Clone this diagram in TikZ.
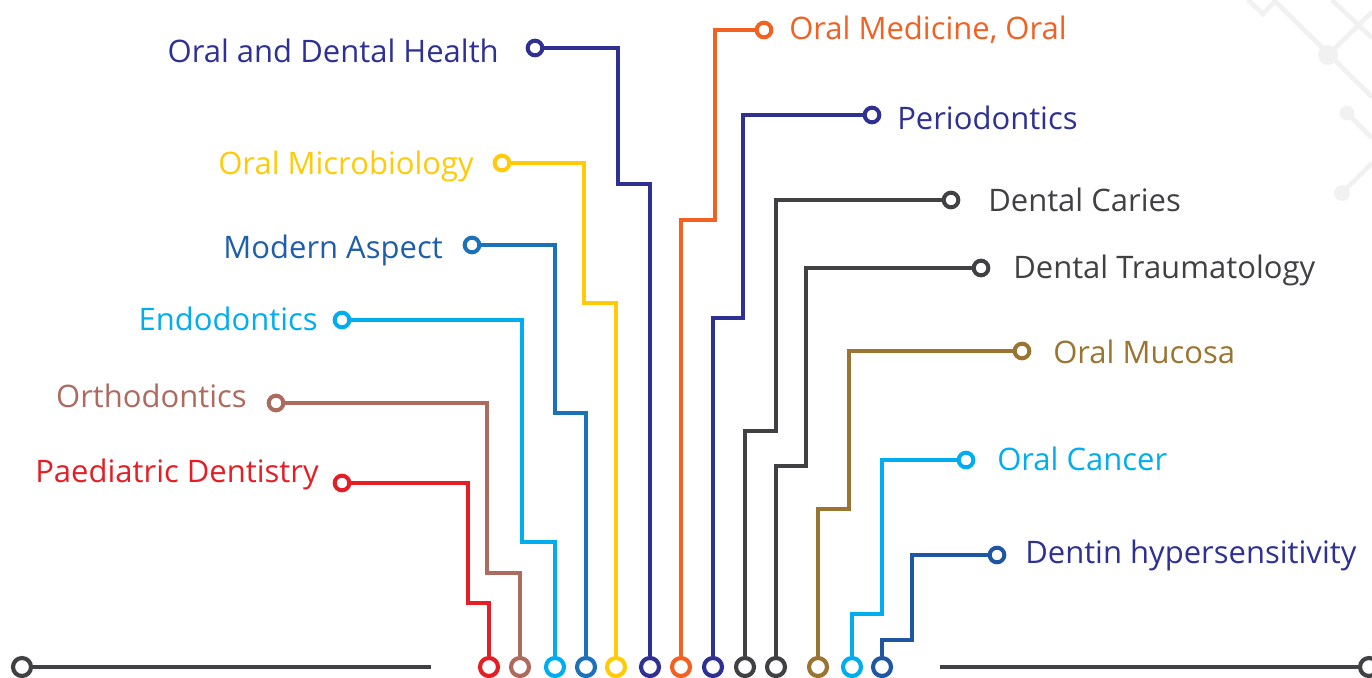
\documentclass[tikz,border=0pt]{standalone}
\usepackage{fontspec}
\setmainfont{Open Sans}
\definecolor{cnavy}{HTML}{2E3192}
\definecolor{cyellow}{HTML}{FFCB08}
\definecolor{cmblue}{HTML}{1B72B8}
\definecolor{cmtext}{HTML}{1F5FA9}
\definecolor{clblue}{HTML}{00AEEF}
\definecolor{cbrown}{HTML}{AD6B60}
\definecolor{cred}{HTML}{E51E25}
\definecolor{corange}{HTML}{F26122}
\definecolor{cdgrey}{HTML}{414042}
\definecolor{cgold}{HTML}{9A7430}
\definecolor{cdblue}{HTML}{1F56A3}
\definecolor{cbg}{HTML}{F1F1F1}
\begin{document}
\begin{tikzpicture}[x=0.75pt,y=-0.75pt,
  dot/.style={circle, draw=#1, fill=white, line width=3pt, minimum size=11pt, inner sep=0pt},
  bdot/.style={circle, draw=#1, fill=white, line width=3.1pt, minimum size=13.5pt, inner sep=0pt},
  trace/.style={draw=#1, line width=3pt},
  lbl/.style={text=#1, font=\fontsize{23.25}{27}\selectfont, inner sep=0pt},
  bgline/.style={draw=cbg, line width=3.6pt},
  bgdot/.style={fill=cbg}]
\useasboundingbox (0,0) rectangle (1372,678);
% faint background circuit
\draw[bgline] (1248,0) -- (1263,14) -- (1275,1) -- (1372,97);
\draw[bgline] (1332,0) -- (1372,38);
\draw[bgline] (1328,55) -- (1372,12);
\draw[bgline] (1347,113) -- (1372,138);
\draw[bgline] (1342,193) -- (1372,163);
\fill[bgdot] (1328,55) circle (7.5pt);
\fill[bgdot] (1347,113) circle (5.5pt);
\fill[bgdot] (1342,193) circle (6pt);
% bottom rail
\node[bdot=cdgrey] (railL) at (22,667) {};
\node[bdot=cdgrey] (railR) at (1369,667) {};
\coordinate (railLend) at (431,667);
\coordinate (railRend) at (940,667);
\draw[trace=cdgrey, line width=3.2pt] (railL) -- (railLend);
\draw[trace=cdgrey, line width=3.2pt] (railRend) -- (railR);
% bottom pins
\node[bdot=cred]    (b1)  at (489,667) {};
\node[bdot=cbrown]  (b2)  at (520,667) {};
\node[bdot=clblue]  (b3)  at (555,667) {};
\node[bdot=cmblue]  (b4)  at (586,667) {};
\node[bdot=cyellow] (b5)  at (616,667) {};
\node[bdot=cnavy]   (b6)  at (650,667) {};
\node[bdot=corange] (b7)  at (681,667) {};
\node[bdot=cnavy]   (b8)  at (713,667) {};
\node[bdot=cdgrey]  (b9)  at (745,667) {};
\node[bdot=cdgrey]  (b10) at (776,667) {};
\node[bdot=cgold]   (b11) at (818,667) {};
\node[bdot=clblue]  (b12) at (852,667) {};
\node[bdot=cdblue]  (b13) at (882,667) {};
% top pins
\node[dot=cred]    (t1)  at (342,483) {};
\node[dot=cbrown]  (t2)  at (276,403) {};
\node[dot=clblue]  (t3)  at (342,320) {};
\node[dot=cmblue]  (t4)  at (472,245) {};
\node[dot=cyellow] (t5)  at (502,163) {};
\node[dot=cnavy]   (t6)  at (535,48) {};
\node[dot=corange] (t7)  at (764,30) {};
\node[dot=cnavy]   (t8)  at (872,115) {};
\node[dot=cdgrey]  (t9)  at (951,200) {};
\node[dot=cdgrey]  (t10) at (981,268) {};
\node[dot=cgold]   (t11) at (1022,351) {};
\node[dot=clblue]  (t12) at (966,460) {};
\node[dot=cdblue]  (t13) at (997,555) {};
% traces
\draw[trace=cred]    (t1)  -- (468,483) -- (468,603) -- (489,603) -- (b1);
\draw[trace=cbrown]  (t2)  -- (487,403) -- (487,573) -- (520,573) -- (b2);
\draw[trace=clblue]  (t3)  -- (522,320) -- (522,542) -- (555,542) -- (b3);
\draw[trace=cmblue]  (t4)  -- (555,245) -- (555,413) -- (586,413) -- (b4);
\draw[trace=cyellow] (t5)  -- (584,163) -- (584,303) -- (616,303) -- (b5);
\draw[trace=cnavy]   (t6)  -- (618,48)  -- (618,184) -- (650,184) -- (b6);
\draw[trace=corange] (t7)  -- (715,30)  -- (715,220) -- (681,220) -- (b7);
\draw[trace=cnavy]   (t8)  -- (743,115) -- (743,318) -- (713,318) -- (b8);
\draw[trace=cdgrey]  (t9)  -- (776,200) -- (776,431) -- (745,431) -- (b9);
\draw[trace=cdgrey]  (t10) -- (806,268) -- (806,466) -- (776,466) -- (b10);
\draw[trace=cgold]   (t11) -- (849,351) -- (849,509) -- (818,509) -- (b11);
\draw[trace=clblue]  (t12) -- (882,460) -- (882,614) -- (852,614) -- (b12);
\draw[trace=cdblue]  (t13) -- (912,555) -- (912,640) -- (882,640) -- (b13);
% labels
\node[lbl=cnavy,   anchor=base east] (l6) at (499,62)  {Oral and Dental Health};
\node[lbl=cyellow, anchor=base east] (l5) at (474,174) {Oral Microbiology};
\node[lbl=cmtext,  anchor=base east] (l4) at (443,258) {Modern Aspect};
\node[lbl=clblue,  anchor=base east] (l3) at (318,330) {Endodontics};
\node[lbl=cbrown,  anchor=base east] (l2) at (247,407) {Orthodontics};
\node[lbl=cred,    anchor=base east] (l1) at (319,482) {Paediatric Dentistry};
\node[lbl=corange, anchor=base west] (l7) at (789,40)  {Oral Medicine, Oral};
\node[lbl=cnavy,   anchor=base west] (l8) at (897,129) {Periodontics};
\node[lbl=cdgrey,  anchor=base west] (l9) at (988,211) {Dental Caries};
\node[lbl=cdgrey,  anchor=base west] (l10) at (1013,278) {Dental Traumatology};
\node[lbl=cgold,   anchor=base west] (l11) at (1053,363) {Oral Mucosa};
\node[lbl=clblue,  anchor=base west] (l12) at (997,470) {Oral Cancer};
\node[lbl=cnavy,   anchor=base west] (l13) at (1025,563) {Dentin hypersensitivity};
\end{tikzpicture}
\end{document}
